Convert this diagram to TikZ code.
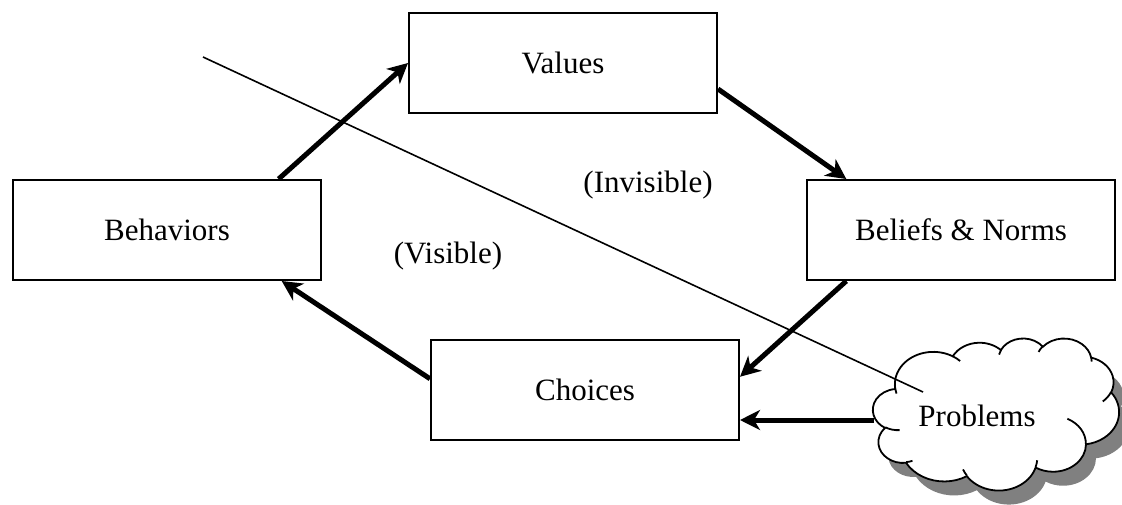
\documentclass[tikz,border=0pt]{standalone}
\usepackage{fontspec}
\setmainfont{Liberation Serif}
\usetikzlibrary{arrows.meta,calc}
% arc in the DrawingML sense: radii, visual start angle, visual sweep
\newcommand\ooarc[4]{\pgfextra{%
  \pgfmathsetmacro\tA{atan2((#1)*sin(#3),(#2)*cos(#3))}%
  \pgfmathsetmacro\tB{atan2((#1)*sin(#3+#4),(#2)*cos(#3+#4))}%
  \pgfmathsetmacro\tD{\tB-\tA}%
  \ifdim #4pt>0pt \ifdim\tD pt<0pt \pgfmathsetmacro\tD{\tD+360}\fi
  \else \ifdim\tD pt>0pt \pgfmathsetmacro\tD{\tD-360}\fi\fi
  \global\let\gA\tA \global\let\gD\tD}%
  arc[x radius=#1, y radius=#2, start angle=\gA, delta angle=\gD]}
\newcommand\cloudpath{(39.00,143.70)
  \ooarc{67.53}{91.90}{-190.4875}{123.7805}
  \ooarc{53.33}{72.67}{-144.1024}{89.9452}
  \ooarc{43.65}{59.45}{-145.8079}{99.7230}
  \ooarc{48.57}{65.95}{-130.9861}{117.2417}
  \ooarc{53.33}{72.73}{-78.7089}{109.0269}
  \ooarc{67.75}{92.20}{-46.2673}{130.2690}
  \ooarc{57.85}{78.67}{0.6250}{114.0333}
  \ooarc{67.52}{92.15}{22.4516}{115.1726}
  \ooarc{77.20}{105.43}{66.2426}{75.7110}
  \ooarc{43.60}{59.18}{-274.9421}{146.7356}
  \ooarc{43.45}{59.45}{-246.8285}{152.5189} -- cycle}
\begin{document}
\begin{tikzpicture}[x=0.5pt,y=-0.5pt,
  box/.style={draw=black,line width=1pt,fill=white,minimum width=154pt,minimum height=50pt,inner sep=0pt},
  arr/.style={line width=2.5pt,-{Stealth[length=10pt,width=10pt,inset=3pt]}},
  lbl/.style={inner sep=0pt},
  cloudline/.style={draw=black,line width=0.9pt},
  every node/.style={font=\fontsize{15.5}{18}\selectfont}]
\useasboundingbox (0,0) rectangle (1122,504);
% cloud (Problems)
\begin{scope}[shift={(873,338)},x=0.28472pt,y=-0.17593pt]
  \fill[black!50,xshift=5pt,yshift=-7pt] \cloudpath;
  \filldraw[cloudline,fill=white] \cloudpath;
  \draw[cloudline]
    (46.93,261.77) \ooarc{43.45}{59.45}{86.7420}{26.4295}
    (69.28,348.99) \ooarc{43.60}{59.18}{73.6105}{11.4475}
    (164.78,390.90) \ooarc{67.52}{92.15}{137.6242}{14.0811}
    (288.27,347.51) \ooarc{67.52}{92.15}{6.4533}{15.9984}
    (341.29,229.54) \ooarc{57.85}{78.67}{-70.2924}{70.9174}
    (417.98,153.54) \ooarc{53.33}{72.73}{30.3180}{27.7515}
    (383.24,54.26) \ooarc{48.57}{65.95}{-13.7443}{14.8589}
    (290.78,39.52) \ooarc{48.57}{65.95}{-149.1815}{18.1954}
    (221.41,47.20) \ooarc{43.65}{59.45}{-163.4943}{17.6864}
    (140.00,51.92) \ooarc{67.53}{91.90}{-66.7070}{12.3194}
    (41.27,157.89) \ooarc{67.53}{91.90}{157.6544}{11.8582};
\end{scope}
\node[lbl] (prob) at (977,416) {Problems};
\coordinate (clw) at (874,420);
% thin line
\coordinate (ls) at (203,57);
\coordinate (le) at (923,392);
\draw[line width=0.8pt] (ls) -- (le);
% boxes
\node[box] (val) at (563,63) {Values};
\node[box] (beh) at (167,230) {Behaviors};
\node[box] (bel) at (961,230) {Beliefs \& Norms};
\node[box] (cho) at (585,390) {Choices};
% labels
\node[lbl] (inv) at (648,185) {(Invisible)};
\node[lbl] (vis) at (448,256) {(Visible)};
% arrows
\draw[arr] ($(beh.north west)!0.86!(beh.north east)$) -- (val.west);
\draw[arr] ($(val.south east)+(0,-25)$) -- ($(bel.north west)!0.13!(bel.north east)$);
\draw[arr] ($(bel.south west)!0.13!(bel.south east)$) -- ($(cho.north east)!0.37!(cho.south east)$);
\draw[arr] (clw) -- (cho.east |- clw);
\draw[arr] ($(cho.north west)!0.39!(cho.south west)$) -- ($(beh.south west)!0.87!(beh.south east)$);
\end{tikzpicture}
\end{document}
